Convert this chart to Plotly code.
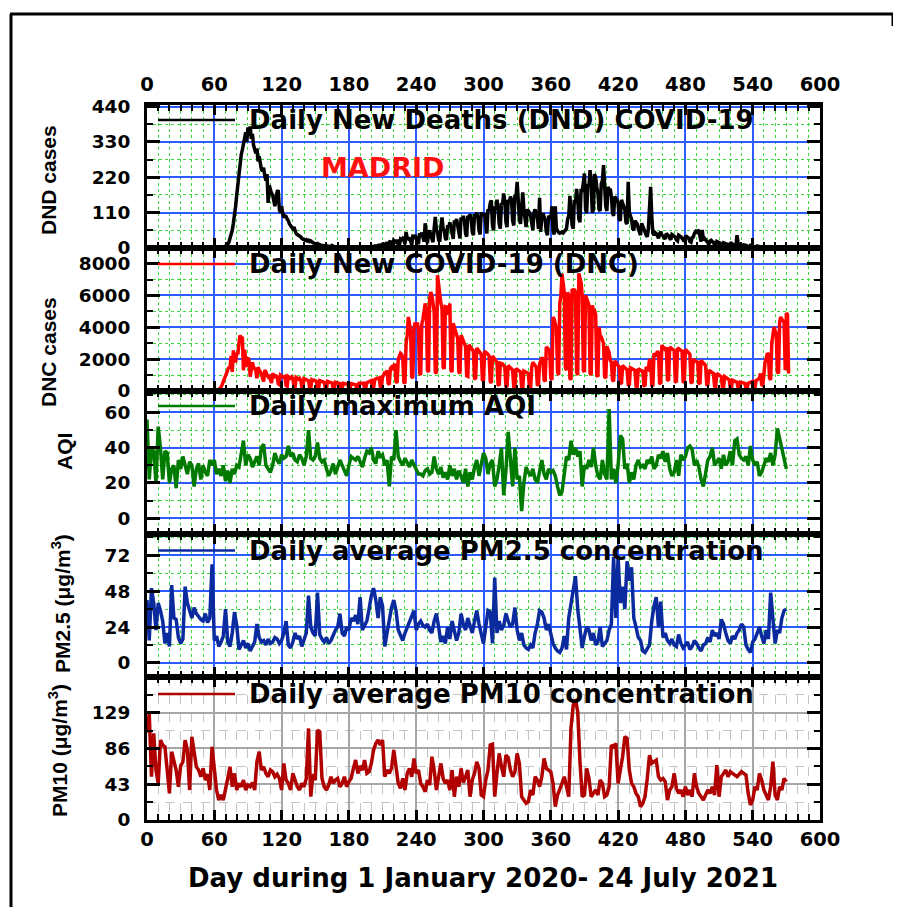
import plotly.graph_objects as go

# ---------------- data ----------------
# Daily New Deaths (DND), Madrid, daily from day 0
dnd_values = [
    0,0,0,0,0,0,0,0,0,0, 0,0,0,0,0,0,0,0,0,0, 0,0,0,0,0,0,0,0,0,0,
    0,0,0,0,0,0,0,0,0,0, 0,0,0,0,0,0,0,0,0,0, 0,0,0,0,0,0,0,0,0,0,
    0,0,0,0,0,0,1,1,2,3,
    5,8,12,18,28,40,55,77,100,130,
    165,200,235,273,290,305,320,345,360,330,
    375,350,378,340,355,320,300,295,310,270,
    285,260,245,240,250,225,210,230,140,195,
    180,170,165,150,130,150,175,180,120,110,
    130,108,95,100,98,90,85,75,70,65,
    60,65,50,45,42,40,38,35,30,28,
    25,24,26,22,24,20,22,18,16,15,
    14,12,14,10,10,9,8,8,7,7,
    6,6,5,5,4,8,5,4,3,3,
    2,3,2,2,1,2,1,1,2,1,
    1,2,1,2,2,2,3,2,3,2,
    4,3,2,4,3,3,4,5,4,3,
    6,5,4,6,5,6,8,9,7,10,
    12,9,12,14,11,16,20,22,9,6,
    24,21,18,25,10,7,28,26,30,25,
    12,50,30,28,33,14,10,36,34,40,
    30,15,12,45,40,48,38,20,77,50,
    15,45,55,40,22,18,60,97,58,50,
    25,20,65,95,60,55,30,25,70,65,
    80,60,35,28,85,80,90,70,40,30,
    95,88,100,85,45,35,100,95,105,90,
    50,40,105,100,110,95,55,42,110,105,
    100,108,60,45,120,115,140,148,70,55,
    130,120,150,125,75,60,140,135,170,145,
    80,65,150,140,160,150,85,70,165,160,
    206,130,90,75,140,173,120,80,65,120,
    115,110,100,70,55,110,120,105,95,60,
    156,50,100,108,95,85,50,40,100,95,
    90,130,55,42,130,60,50,48,46,48,
    50,47,52,55,60,90,100,162,110,70,
    60,150,140,184,150,90,80,184,175,200,
    232,120,108,200,190,242,200,110,120,230,
    220,190,170,120,115,200,210,258,190,130,
    115,190,180,184,160,110,100,160,155,150,
    140,90,85,150,140,130,120,80,75,206,
    110,100,90,60,55,85,80,75,60,45,
    40,77,65,60,50,40,35,60,110,190,
    100,46,40,48,45,35,30,45,50,40,
    38,32,28,45,42,38,30,26,42,40,
    36,34,25,22,40,38,35,30,22,20,
    35,36,33,30,20,18,32,34,45,50,
    45,56,52,30,20,56,28,30,25,20,
    14,12,22,24,20,18,10,8,20,18,
    16,15,8,6,16,15,14,12,6,5,
    14,15,12,10,5,4,40,15,10,9,
    4,3,10,9,8,7,3,2,8,7,
    6,5,2,2,6,5,5,4,2,1,
    5,5,4,3,1,1,4,4,3,3,
    1,1,3,3,2,2,1,1,3,2,
    2,1,1,
]

# Daily New COVID-19 cases (DNC), Madrid, daily from day 0
dnc_values = [
    0,0,0,0,0,0,0,0,0,0, 0,0,0,0,0,0,0,0,0,0, 0,0,0,0,0,0,0,0,0,0,
    0,0,0,0,0,0,0,0,0,0, 0,0,0,0,0,0,0,0,0,0, 0,0,0,0,0,0,0,0,0,0,
    5,10,20,40,80,150,250,400,600,850,
    900,1100,1300,1500,1400,2200,1200,2550,2000,1800,
    2400,2300,3000,3500,3300,3400,1300,2600,2000,1500,
    2100,1900,900,1600,1800,1500,1400,1300,800,1500,
    1300,1200,1100,800,600,1300,1200,1000,900,1000,
    600,500,1100,1000,900,950,900,450,400,1000,
    950,900,850,900,350,300,900,850,800,880,
    800,300,250,850,800,750,800,700,250,220,
    780,750,700,720,650,220,200,700,650,680,
    620,600,200,180,650,620,600,580,550,180,
    160,600,580,560,550,500,170,150,550,520,
    500,480,460,160,140,480,470,450,440,420,
    150,130,460,450,440,430,400,140,130,480,
    470,460,500,480,160,150,520,560,600,620,
    650,200,180,700,750,800,780,820,300,250,
    900,1000,1200,1100,1300,500,400,1400,1500,1430,
    1600,1700,600,500,2000,2200,2370,2300,2100,550,
    480,3000,3500,4650,4000,3800,900,800,3900,4300,
    4100,4300,3800,1100,1000,4200,4500,5000,5500,5200,
    1300,1200,5800,6220,6000,5500,5000,1200,1100,7270,
    6500,6000,5500,5200,1500,1400,5300,5280,5000,4800,
    5500,1300,1200,4250,4000,3800,3500,3300,1200,1100,
    3500,3300,3180,3000,2800,950,920,2900,2750,2700,
    2600,2500,800,750,2700,2600,2500,2400,2300,700,
    650,2500,2400,2370,2300,2200,600,500,2200,2100,
    2000,1900,1800,400,350,1750,1740,1700,1600,1500,
    300,250,1600,1500,1450,1400,1300,250,200,1400,
    1350,1300,1250,1200,220,180,1250,1200,1150,1110,
    1100,200,170,1500,1800,1700,1600,1500,400,350,
    1700,1900,2100,2000,700,600,2760,2700,2600,2500,
    800,700,4650,4500,4200,4000,1200,1000,5500,6000,
    7370,6500,6200,1500,1300,6200,6000,800,700,6400,
    6300,6400,6200,1200,1000,7390,7000,6800,6000,1300,
    1200,6000,5800,5600,5400,1100,1000,5380,5100,5060,
    4800,1000,900,4000,3500,3390,3200,3000,900,800,
    2800,2600,2400,1930,1800,700,600,1900,1800,1700,
    1600,1500,500,450,1600,1500,1450,1400,1350,400,
    350,1450,1400,1350,1300,1300,300,280,1400,1350,
    1300,1250,1300,350,300,1500,1400,1350,2000,1900,
    350,300,2370,2300,2200,2500,2400,500,450,2870,
    2800,2700,2600,2750,700,650,2750,2700,2650,2600,
    2550,600,550,2700,2650,2600,2550,2500,600,550,
    2600,2550,2500,2400,2300,550,500,2000,1930,1900,
    1850,1800,500,450,1930,1850,1800,1700,1600,400,
    350,1300,1250,1200,1150,1100,300,280,1100,1050,
    1000,950,900,250,220,900,850,800,750,700,
    200,180,670,650,600,580,550,170,160,550,
    520,500,480,480,170,160,480,500,520,550,
    600,200,180,650,700,750,800,1110,400,350,
    1500,1800,2000,2370,2300,800,700,3000,3500,4020,
    3800,3600,1200,1100,4300,4650,4500,4400,4300,1300,
    4900,4800,1100,
]

# Daily maximum AQI, every 2nd day from day 0
aqi_values = [
    56,22,40,38,20,52,40,22,38,37,
    20,28,30,17,33,28,35,30,25,32,
    30,18,28,31,22,30,26,24,33,30,
    33,25,28,24,30,21,27,20,28,25,
    30,29,38,44,30,36,34,29,32,35,
    30,40,42,30,28,26,30,37,33,31,
    36,34,35,41,35,37,33,32,36,34,
    30,35,50,34,33,35,43,34,32,33,
    28,24,27,31,25,29,33,30,27,24,
    30,35,34,33,35,32,29,34,38,37,
    40,33,31,38,35,36,30,33,18,35,
    33,50,35,32,30,34,31,29,33,30,
    27,25,25,24,27,28,25,26,35,28,
    25,29,23,26,22,30,24,28,22,27,
    24,20,28,18,26,22,29,33,24,31,
    37,34,25,31,33,18,22,30,40,13,
    27,49,30,18,40,22,24,4,20,29,
    26,24,28,22,20,27,33,25,22,28,
    26,27,24,18,13,15,26,35,33,44,
    36,40,35,38,18,30,28,33,29,40,
    30,24,22,33,25,22,62,22,28,20,
    30,47,45,28,31,20,26,22,30,33,
    29,30,28,33,31,35,28,30,36,34,
    38,32,37,28,24,26,33,24,36,33,
    35,40,41,39,30,33,29,22,18,26,
    33,35,40,30,32,34,28,36,30,32,
    38,30,44,45,36,34,33,35,30,41,
    33,30,32,24,26,30,34,32,37,30,
    36,51,45,40,33,28,
]

# Daily average PM2.5 (ug/m3), every 2nd day from day 0
pm25_values = [
    42,15,50,40,22,40,35,28,13,20,
    11,52,30,29,17,13,16,51,40,35,
    30,37,33,31,29,28,33,27,30,66,
    15,18,11,14,18,36,14,11,20,34,
    25,9,12,15,10,13,8,11,14,26,
    17,14,15,12,16,13,14,17,16,13,
    15,20,28,12,10,14,20,16,18,11,
    16,20,45,24,20,18,47,19,16,14,
    17,13,15,19,22,24,33,20,18,24,
    22,30,28,32,26,44,22,25,28,36,
    45,50,42,30,44,38,11,20,30,37,
    42,35,22,18,15,20,24,28,32,35,
    22,26,28,25,24,26,22,20,28,33,
    24,14,18,13,24,16,28,22,15,20,
    33,26,22,30,24,20,28,35,26,20,
    13,24,35,34,13,57,20,28,22,25,
    33,28,24,26,37,22,15,20,12,10,
    9,12,10,20,26,35,34,30,22,26,
    18,13,10,8,7,10,18,9,30,40,
    50,58,36,24,10,18,24,22,15,20,
    12,14,24,11,13,15,22,26,71,30,
    71,40,51,36,68,55,64,30,24,17,
    15,8,7,10,12,28,38,44,24,41,
    17,20,15,13,16,12,11,19,13,10,
    12,14,9,11,15,13,10,8,12,13,
    17,14,22,18,20,16,29,26,20,15,
    13,18,16,20,22,26,24,12,9,7,
    14,16,20,24,18,13,22,16,47,30,
    13,22,20,30,35,36,13,
]

# Daily average PM10 (ug/m3), every 2nd day from day 0
pm10_values = [
    105,128,52,104,60,44,96,90,88,60,
    32,82,70,60,40,65,70,96,84,36,
    100,80,64,60,52,62,48,55,36,88,
    60,36,24,30,24,40,50,64,40,56,
    36,44,40,48,36,42,40,45,36,70,
    82,60,64,56,52,60,58,52,55,50,
    36,68,48,44,36,56,48,40,36,44,
    40,50,110,28,55,48,108,106,50,40,
    36,42,52,44,48,50,40,44,52,40,
    46,50,62,72,56,65,60,72,56,58,
    68,84,92,96,90,96,52,60,56,62,
    84,60,44,38,50,36,56,62,52,74,
    56,60,44,40,34,48,42,76,60,36,
    52,68,50,44,48,36,60,28,52,40,
    62,45,52,60,28,48,56,70,62,30,
    28,48,60,90,91,28,56,80,64,52,
    78,75,60,52,58,80,68,28,24,20,
    22,36,30,52,48,40,52,74,62,60,
    58,44,16,30,36,44,52,38,28,110,
    138,145,130,70,28,30,62,50,28,32,
    36,30,48,44,28,30,40,90,88,92,
    44,60,76,100,98,60,44,40,32,28,
    16,20,28,50,78,68,70,72,52,48,
    50,46,24,36,40,56,38,32,36,28,
    40,30,36,28,56,40,32,28,24,30,
    36,32,40,30,66,28,52,56,60,52,
    58,56,54,52,55,58,56,54,32,18,
    24,40,36,56,48,36,30,24,40,70,
    30,24,40,36,50,46,32,
]

daily_start = 0
aq_start = 0
aq_step = 2

x_tick_vals = [0, 60, 120, 180, 240, 300, 360, 420, 480, 540, 600]
dnd_ticks = [0, 110, 220, 330, 440]
dnc_ticks = [0, 2000, 4000, 6000, 8000]
aqi_ticks = [0, 20, 40, 60]
pm25_ticks = [0, 24, 48, 72]
pm10_ticks = [0, 43, 86, 129]

legend_texts = [
    "Daily New Deaths (DND) COVID-19",
    "Daily New COVID-19 (DNC)",
    "Daily maximum AQI",
    "Daily average PM2.5 concentration",
    "Daily average PM10 concentration",
]
y_titles = ["DND cases", "DNC cases", "AQI",
            "PM2.5 (\u03bcg/m<sup>3</sup>)", "PM10 (\u03bcg/m<sup>3</sup>)"]
x_title = "Day during 1 January 2020- 24 July 2021"
city = "MADRID"

# ---------------- layout helpers ----------------
W, H = 901, 907
PAGE_OFF = 8                      # default body margin of the html page
L, R, T, B = 147, 820, 105, 820   # plot area in page pixels
PW, PH = R - L, B - T


def fx(px):
    return (px - L) / PW


def fy(py):
    return (B - py) / PH


BLUE = "#2d5bff"
GREEN = "#3fd83f"
GRAY = "#a6a6a6"
GRAY_MINOR = "#c4c4c4"
XTICKFONT = dict(family="DejaVu Sans", size=19.5, color="black", weight="bold")
YTICKFONT = dict(family="DejaVu Sans", size=18.5, color="black", weight="bold")

dnd_days = list(range(daily_start, daily_start + len(dnd_values)))
dnc_days = list(range(daily_start, daily_start + len(dnc_values)))
aq_days = list(range(aq_start, aq_start + aq_step * len(aqi_values), aq_step))

panels = [
    dict(x=dnd_days, y=dnd_values, color="#000000", ticks=dnd_ticks, minor=55,
         rng=[0, 445], grid=BLUE, mgrid=GREEN, mdash="dot"),
    dict(x=dnc_days, y=dnc_values, color="#ff0000", ticks=dnc_ticks, minor=1000,
         rng=[0, 8980], grid=BLUE, mgrid=GREEN, mdash="dot"),
    dict(x=aq_days, y=aqi_values, color="#007a00", ticks=aqi_ticks, minor=10,
         rng=[-9, 72.2], grid=BLUE, mgrid=GREEN, mdash="dot"),
    dict(x=aq_days, y=pm25_values, color="#0a2a9e", ticks=pm25_ticks, minor=12,
         rng=[-9.4, 86.2], grid=BLUE, mgrid=GREEN, mdash="dot"),
    dict(x=aq_days, y=pm10_values, color="#b00000", ticks=pm10_ticks, minor=21.5,
         rng=[0, 171.8], grid=GRAY, mgrid=GRAY_MINOR, mdash="dash"),
]

legend_offsets = [15, 16, 15, 16.5, 17]
y_title_pos = [(48, 180), (48, 352), (64, 452), (61, 604), (58, 751)]

fig = go.Figure()
layout = dict(
    width=W, height=H,
    margin=dict(l=L - PAGE_OFF, r=W - (R - PAGE_OFF), t=T - PAGE_OFF,
                b=H - (B - PAGE_OFF)),
    paper_bgcolor="white", plot_bgcolor="white",
    showlegend=False,
)
shapes = []
annotations = []

n = len(panels)
for i, p in enumerate(panels):
    k = "" if i == 0 else str(i + 1)
    xa, ya = "x" + k, "y" + k
    top = 1 - i / n
    bot = 1 - (i + 1) / n
    fig.add_trace(go.Scatter(
        x=p["x"], y=p["y"], mode="lines", name=legend_texts[i],
        line=dict(color=p["color"], width=3.5), xaxis=xa, yaxis=ya,
        hoverinfo="x+y",
    ))
    show_x_labels = i == 0 or i == n - 1
    layout["xaxis" + k] = dict(
        domain=[0, 1], anchor=ya, range=[0, 600],
        tickmode="array", tickvals=x_tick_vals,
        ticks="inside", ticklen=10, tickwidth=2.5, tickcolor="black",
        mirror="allticks", showline=True, linewidth=3, linecolor="black",
        showgrid=True, gridcolor=p["grid"], gridwidth=1.5,
        zeroline=False,
        minor=dict(tick0=0, dtick=10, ticks="inside", ticklen=6, tickwidth=2,
                   tickcolor="black", showgrid=True, gridcolor=p["mgrid"],
                   griddash=p["mdash"], gridwidth=1),
        showticklabels=show_x_labels,
        side="top" if i == 0 else "bottom",
        tickfont=XTICKFONT, ticklabelstandoff=3 if i == 0 else 0,
    )
    if i > 0:
        layout["xaxis" + k]["matches"] = "x"
    layout["yaxis" + k] = dict(
        domain=[bot, top], anchor=xa, range=p["rng"],
        tickmode="array", tickvals=p["ticks"],
        ticks="inside", ticklen=13, tickwidth=2.5, tickcolor="black",
        mirror="allticks", showline=True, linewidth=3, linecolor="black",
        showgrid=True, gridcolor=p["grid"], gridwidth=1.5,
        zeroline=False,
        minor=dict(tick0=0, dtick=p["minor"], ticks="inside", ticklen=6,
                   tickwidth=2, tickcolor="black", showgrid=True,
                   gridcolor=p["mgrid"], griddash=p["mdash"], gridwidth=1),
        tickfont=YTICKFONT, ticklabelstandoff=10,
    )
    # legend sample line + text, drawn inside each panel
    ly = 1 - legend_offsets[i] / (PH / n)
    shapes.append(dict(type="line", xref=xa + " domain", yref=ya + " domain",
                       x0=11 / PW, x1=88 / PW, y0=ly, y1=ly,
                       line=dict(color=p["color"], width=2.5)))
    annotations.append(dict(
        text=legend_texts[i], xref=xa + " domain", yref=ya + " domain",
        x=100 / PW, y=ly, xanchor="left", yanchor="middle", showarrow=False,
        font=dict(family="DejaVu Sans", size=26, color="black", weight="bold"),
    ))
    tx, ty = y_title_pos[i]
    annotations.append(dict(
        text=y_titles[i], xref="paper", yref="paper", x=fx(tx), y=fy(ty),
        xanchor="center", yanchor="middle", textangle=-90, showarrow=False,
        font=dict(family="Liberation Sans, Arial", size=21, color="black",
                  weight="bold"),
    ))

annotations.append(dict(
    text=city, xref="paper", yref="paper", x=fx(382), y=fy(167),
    xanchor="center", yanchor="middle", showarrow=False,
    font=dict(family="DejaVu Sans", size=27, color="#ff1010", weight="bold"),
))
annotations.append(dict(
    text=x_title, xref="paper", yref="paper", x=fx(483), y=fy(878),
    xanchor="center", yanchor="middle", showarrow=False,
    font=dict(family="DejaVu Sans", size=26, color="black", weight="bold"),
))

# outer frame of the picture
frame = dict(color="black", width=3)
shapes.append(dict(type="line", xref="paper", yref="paper",
                   x0=fx(11), x1=fx(11), y0=fy(14), y1=fy(907), line=frame))
shapes.append(dict(type="line", xref="paper", yref="paper",
                   x0=fx(10), x1=fx(893), y0=fy(14), y1=fy(14), line=frame))
shapes.append(dict(type="line", xref="paper", yref="paper",
                   x0=fx(893), x1=fx(893), y0=fy(14), y1=fy(26), line=frame))

layout["shapes"] = shapes
layout["annotations"] = annotations
fig.update_layout(**layout)
fig.write_html("out.html")
